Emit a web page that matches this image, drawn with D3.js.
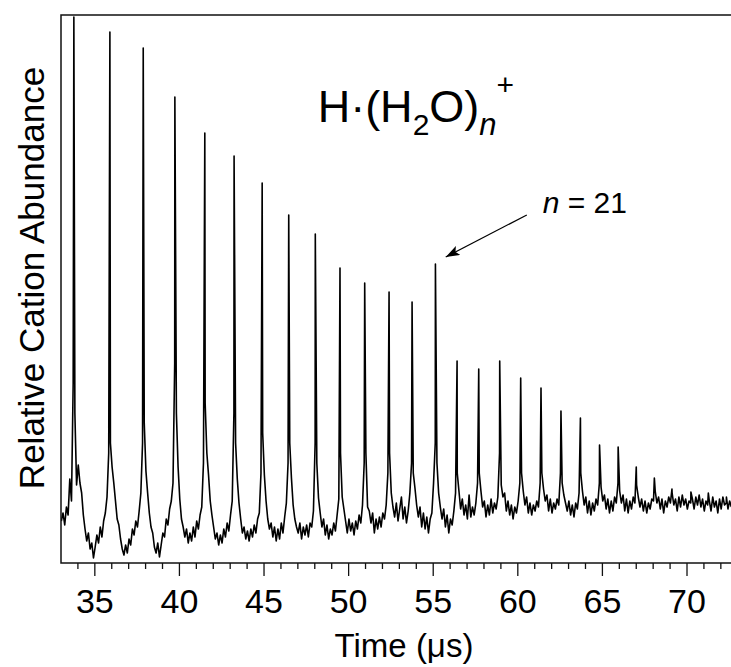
<!DOCTYPE html>
<html>
<head>
<meta charset="utf-8">
<script src="https://cdn.jsdelivr.net/npm/d3@7"></script>
<style>
  body { margin: 0; background: #fff; }
  text { font-family: "Liberation Sans", Arial, sans-serif; fill: #000; }
</style>
</head>
<body>
<div id="chart"></div>
<script>
const t0 = 33.05
const dt = 0.1
const abundance = [
  42, 50, 38, 56, 48, 84, 62, 180, 150, 78,
  98, 80, 70, 48, 34, 22, 30, 14, 20, 5,
  16, 28, 20, 36, 26, 42, 50, 66, 110, 120,
  96, 80, 62, 44, 38, 24, 14, 8, 18, 10,
  24, 18, 34, 28, 42, 36, 52, 70, 120, 140,
  92, 70, 50, 36, 30, 16, 10, 20, 6, 18,
  30, 26, 44, 38, 54, 62, 80, 200, 150, 96,
  64, 44, 36, 26, 34, 20, 30, 22, 36, 26,
  42, 34, 48, 56, 100, 160, 110, 88, 62, 48,
  36, 24, 30, 18, 28, 20, 34, 26, 40, 32,
  48, 62, 150, 120, 84, 60, 44, 30, 36, 24,
  32, 22, 34, 26, 38, 30, 44, 50, 90, 130,
  88, 62, 44, 34, 40, 26, 36, 22, 34, 24,
  40, 30, 46, 60, 100, 120, 85, 58, 44, 36,
  30, 40, 24, 36, 28, 38, 26, 40, 36, 52,
  120, 100, 65, 50, 36, 44, 28, 38, 24, 34,
  28, 40, 32, 48, 64, 110, 66, 54, 42, 30,
  44, 32, 40, 28, 42, 34, 48, 40, 58, 100,
  110, 56, 52, 40, 50, 30, 44, 34, 46, 36,
  50, 44, 58, 90, 110, 70, 56, 46, 60, 42,
  54, 66, 44, 56, 40, 52, 70, 100, 90, 75,
  58, 46, 56, 36, 50, 34, 46, 30, 44, 50,
  80, 120, 100, 70, 56, 44, 54, 36, 48, 30,
  44, 38, 52, 70, 90, 72, 54, 64, 48, 58,
  44, 68, 46, 56, 48, 60, 80, 90, 72, 56,
  62, 46, 58, 48, 64, 50, 60, 54, 66, 110,
  78, 66, 70, 52, 62, 48, 58, 44, 56, 50,
  62, 80, 90, 72, 58, 66, 50, 60, 48, 58,
  52, 62, 56, 80, 90, 74, 62, 68, 52, 64,
  50, 60, 54, 64, 58, 90, 80, 68, 60, 52,
  62, 48, 58, 46, 60, 54, 70, 90, 72, 58,
  66, 50, 62, 48, 60, 52, 64, 58, 80, 76,
  62, 68, 54, 64, 50, 62, 52, 66, 60, 80,
  72, 60, 68, 52, 64, 50, 62, 54, 66, 60,
  78, 66, 56, 64, 52, 62, 50, 60, 54, 64,
  62, 72, 60, 66, 54, 64, 50, 62, 56, 66,
  60, 70, 58, 64, 52, 66, 56, 68, 58, 64,
  54, 62, 60, 64, 54, 66, 58, 68, 56, 64,
  52, 62, 58, 62, 52, 66, 56, 62, 50, 64,
  54, 66, 58, 60, 54, 62, 56
]

// peak tips (n = 8 ... 36)
const peakTime = [33.79, 35.92, 37.89, 39.76, 41.53, 43.26, 44.92, 46.49, 48.06, 49.52,
  50.98, 52.42, 53.78, 55.16, 56.44, 57.72, 58.96, 60.20, 61.40, 62.58,
  63.73, 64.86, 65.96, 67.03, 68.10, 69.14, 70.26, 71.29, 72.36]
const peakTop = [546, 531, 515, 466, 430, 407, 380, 348, 329, 295,
  280, 271, 261, 299, 202, 194, 202, 185, 175, 152,
  145, 118, 116, 96, 85, 74, 71, 70, 66]

const majorTicks = [35, 40, 45, 50, 55, 60, 65, 70]
const minorTicks = d3.range(34, 73).filter(d => d % 5 !== 0)

// annotation anchors in data units
const arrowFrom = [60.56, 348]
const arrowTo = [55.77, 306]
const labelAt = [61.5, 350]

const width = 731, height = 667
const margin = { top: 15, right: 0, bottom: 104, left: 61 }

const svg = d3.select('#chart').append('svg')
  .attr('width', width)
  .attr('height', height)

const x = d3.scaleLinear().domain([33.03, 72.63]).range([margin.left, width - margin.right])
const y = d3.scaleLinear().domain([0, 548]).range([height - margin.bottom, margin.top])

const trace = abundance.map((v, i) => ({ t: t0 + i * dt, s: v }))
  .concat(peakTime.map((t, i) => ({ t: t, s: peakTop[i] })))
  .sort((a, b) => a.t - b.t)

svg.append('clipPath').attr('id', 'plot-clip')
  .append('rect')
  .attr('x', margin.left).attr('y', margin.top - 2)
  .attr('width', width - margin.left).attr('height', height - margin.bottom - margin.top + 2)

const line = d3.line()
  .x(d => x(d.t))
  .y(d => y(d.s))

svg.append('path')
  .datum(trace)
  .attr('clip-path', 'url(#plot-clip)')
  .attr('fill', 'none')
  .attr('stroke', '#000')
  .attr('stroke-width', 1.6)
  .attr('stroke-linejoin', 'round')
  .attr('d', line)

// frame (right edge runs off the picture)
svg.append('rect')
  .attr('x', margin.left)
  .attr('y', margin.top)
  .attr('width', width - margin.left + 5)
  .attr('height', height - margin.bottom - margin.top)
  .attr('fill', 'none')
  .attr('stroke', '#111')
  .attr('stroke-width', 1.5)

const xAxis = svg.append('g')
  .attr('transform', `translate(0,${height - margin.bottom})`)
  .call(d3.axisBottom(x).tickValues(majorTicks).tickSize(13).tickPadding(13)
    .tickSizeOuter(0).tickFormat(d3.format('d')))
xAxis.select('.domain').remove()
xAxis.selectAll('line').attr('stroke', '#111').attr('stroke-width', 1.3)
xAxis.selectAll('text')
  .attr('font-family', '"Liberation Sans", Arial, sans-serif')
  .attr('font-size', 34)

const xMinor = svg.append('g')
  .attr('transform', `translate(0,${height - margin.bottom})`)
  .call(d3.axisBottom(x).tickValues(minorTicks).tickSize(6).tickSizeOuter(0).tickFormat(''))
xMinor.select('.domain').remove()
xMinor.selectAll('line').attr('stroke', '#111').attr('stroke-width', 1.3)

svg.append('text')
  .attr('x', 404)
  .attr('y', 657)
  .attr('text-anchor', 'middle')
  .attr('font-size', 33)
  .text('Time (\u03bcs)')

svg.append('text')
  .attr('transform', 'rotate(-90)')
  .attr('x', -278)
  .attr('y', 44)
  .attr('text-anchor', 'middle')
  .attr('font-size', 35)
  .text('Relative Cation Abundance')

// species label H·(H2O)n+
const title = svg.append('text')
  .attr('x', x(48.2))
  .attr('y', y(441))
  .attr('font-size', 45)
title.append('tspan').text('H\u00b7(H')
title.append('tspan').attr('font-size', 30).attr('dy', 13).text('2')
title.append('tspan').attr('dy', -13).text('O)')
title.append('tspan').attr('font-size', 31).attr('font-style', 'italic').attr('dy', 13).text('n')
title.append('tspan').attr('font-size', 30).attr('dy', -40).text('+')

// n = 21 arrow
svg.append('defs').append('marker')
  .attr('id', 'arrowhead')
  .attr('markerUnits', 'userSpaceOnUse')
  .attr('viewBox', '0 0 14 10')
  .attr('refX', 14).attr('refY', 5)
  .attr('markerWidth', 14).attr('markerHeight', 10)
  .attr('orient', 'auto')
  .append('path')
  .attr('d', 'M0,0 L14,5 L0,10 L3,5 Z')
  .attr('fill', '#000')

svg.append('line')
  .attr('x1', x(arrowFrom[0])).attr('y1', y(arrowFrom[1]))
  .attr('x2', x(arrowTo[0])).attr('y2', y(arrowTo[1]))
  .attr('stroke', '#000')
  .attr('stroke-width', 1.2)
  .attr('marker-end', 'url(#arrowhead)')

const lab = svg.append('text')
  .attr('x', x(labelAt[0]))
  .attr('y', y(labelAt[1]))
  .attr('font-size', 30)
lab.append('tspan').attr('font-style', 'italic').text('n')
lab.append('tspan').text(' = 21')
</script>
</body>
</html>
